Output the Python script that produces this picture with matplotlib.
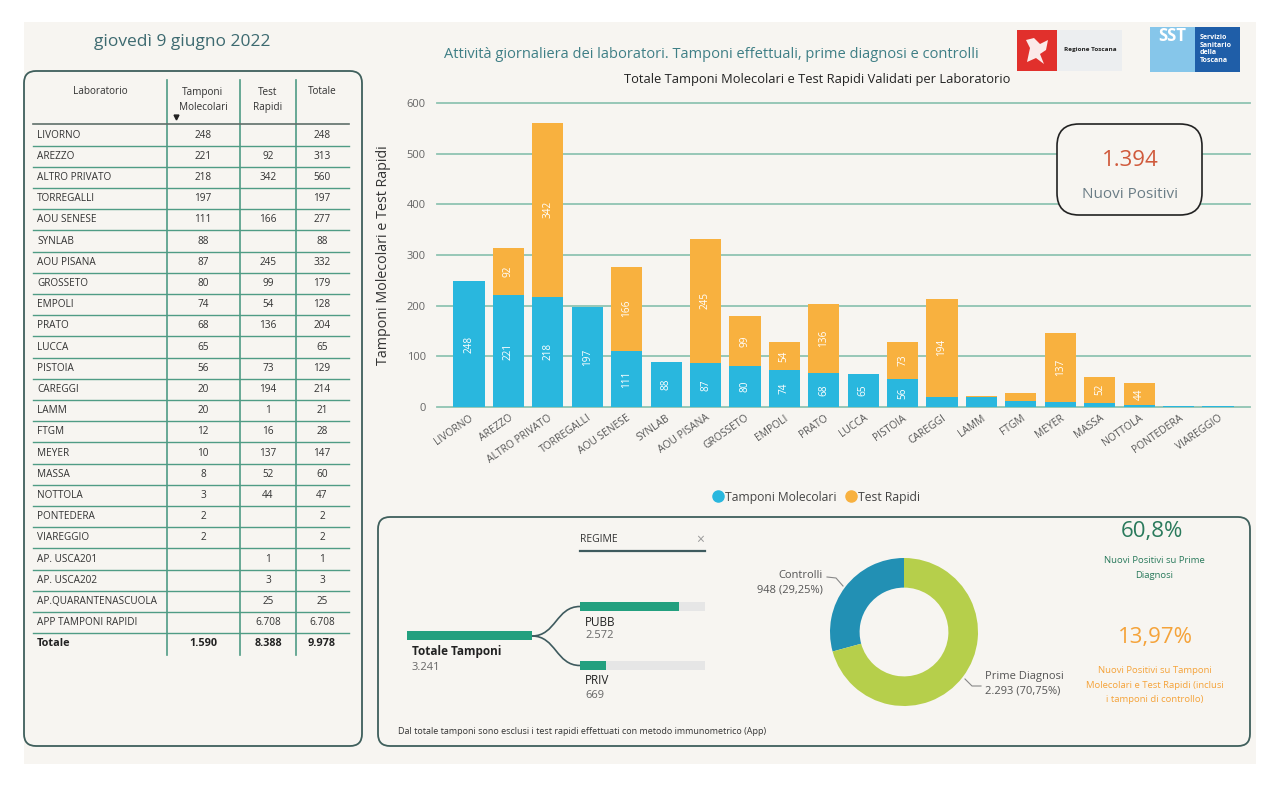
import matplotlib
matplotlib.use('Agg')
import matplotlib.pyplot as plt
import matplotlib.transforms as mtrans
from matplotlib.patches import FancyBboxPatch, Rectangle, PathPatch
from matplotlib.path import Path
from matplotlib.lines import Line2D

plt.rcParams['font.family'] = ['Open Sans', 'DejaVu Sans']

W, H = 1280, 787

# --- data ---
labs = ['LIVORNO', 'AREZZO', 'ALTRO PRIVATO', 'TORREGALLI', 'AOU SENESE', 'SYNLAB',
        'AOU PISANA', 'GROSSETO', 'EMPOLI', 'PRATO', 'LUCCA', 'PISTOIA', 'CAREGGI',
        'LAMM', 'FTGM', 'MEYER', 'MASSA', 'NOTTOLA', 'PONTEDERA', 'VIAREGGIO',
        'AP. USCA201', 'AP. USCA202', 'AP.QUARANTENASCUOLA', 'APP TAMPONI RAPIDI']
molecolari = [248, 221, 218, 197, 111, 88, 87, 80, 74, 68, 65, 56, 20, 20, 12, 10, 8, 3, 2, 2,
              None, None, None, None]
rapidi = [None, 92, 342, None, 166, None, 245, 99, 54, 136, None, 73, 194, 1, 16, 137, 52, 44,
          None, None, 1, 3, 25, 6708]
n_bar = 20

regime = ['PUBB', 'PRIV']
regime_vals = [2572, 669]
donut_labels = ['Controlli', 'Prime Diagnosi']
donut_vals = [948, 2293]
nuovi_positivi = 1394
pct_prime = 60.8
pct_tamponi = 13.97

BEIGE = '#f7f5f1'
PANEL = '#3f5f5c'
GRIDC = '#8fc4b2'
BLUE = '#29b7de'
ORANGE = '#f8b13f'
GREEN = '#23a07f'


def fmt(v):
    return '' if v is None else f'{v:,}'.replace(',', '.')


def pct(v):
    return f'{v:.2f}'.replace('.', ',') + '%'


def frac(x0, y0, x1, y1):
    return [x0 / W, 1 - y1 / H, (x1 - x0) / W, (y1 - y0) / H]


fig = plt.figure(figsize=(12.8, 7.87), dpi=100, facecolor='white')

# background layer: canvas + panels + table
bg = fig.add_axes([0, 0, 1, 1])
bg.set_xlim(0, W)
bg.set_ylim(H, 0)
bg.axis('off')
bg.add_patch(Rectangle((24, 22), 1232, 742, fc=BEIGE, ec='none'))
bg.add_patch(FancyBboxPatch((24, 71), 338, 675, boxstyle='round,pad=0,rounding_size=12',
                            fc=BEIGE, ec=PANEL, lw=1.3))
bg.add_patch(FancyBboxPatch((378, 517), 872, 229, boxstyle='round,pad=0,rounding_size=12',
                            fc=BEIGE, ec=PANEL, lw=1.3))

bg.text(182, 42, 'giovedì 9 giugno 2022', ha='center', va='center', fontsize=12.5, color='#3d6a70')

# table
tcol = '#4f9c85'
fs_t = 7.2
bg.text(100, 92, 'Laboratorio', ha='center', va='center', fontsize=fs_t, color='#333333')
bg.text(203, 100, 'Tamponi\nMolecolari', ha='center', va='center', fontsize=fs_t, color='#333333',
        linespacing=1.45)
bg.text(268, 100, 'Test\nRapidi', ha='center', va='center', fontsize=fs_t, color='#333333', linespacing=1.45)
bg.text(322, 92, 'Totale', ha='center', va='center', fontsize=fs_t, color='#333333')
bg.plot([176], [117], marker='v', color='#222222', ms=3.5)
for xv in [167, 240, 296]:
    bg.plot([xv, xv], [80, 655], color=tcol, lw=1.2)
bg.plot([33, 349], [124, 124], color='#5f6f6a', lw=1.2)

row0, step = 135, 21.2
tot_m = sum(v for v in molecolari if v)
tot_r = sum(v for v in rapidi if v)
for i, name in enumerate(labs):
    y = row0 + step * i
    m, r = molecolari[i], rapidi[i]
    bg.text(37, y, name, ha='left', va='center', fontsize=fs_t, color='#333333')
    bg.text(203, y, fmt(m), ha='center', va='center', fontsize=fs_t, color='#333333')
    bg.text(268, y, fmt(r), ha='center', va='center', fontsize=fs_t, color='#333333')
    bg.text(322, y, fmt((m or 0) + (r or 0)), ha='center', va='center', fontsize=fs_t, color='#333333')
    bg.plot([33, 349], [y + step / 2, y + step / 2], color=tcol, lw=1.0)
yt = row0 + step * len(labs)
bg.text(37, yt, 'Totale', ha='left', va='center', fontsize=7.8, color='#222222', fontweight='bold')
for xc, v in zip([203, 268, 322], [tot_m, tot_r, tot_m + tot_r]):
    bg.text(xc, yt, fmt(v), ha='center', va='center', fontsize=7.8, color='#222222', fontweight='bold')

# --- stacked bar chart ---
ax = fig.add_axes(frac(437, 103, 1250, 407))
ax.set_facecolor('none')
xs = list(range(n_bar))
mol = [molecolari[i] or 0 for i in xs]
rap = [rapidi[i] or 0 for i in xs]
ax.bar(xs, mol, width=0.79, color=BLUE, zorder=3)
ax.bar(xs, rap, width=0.79, bottom=mol, color=ORANGE, zorder=3)
for x, m, r in zip(xs, mol, rap):
    if m >= 30:
        ax.text(x, m / 2, str(m), rotation=90, ha='center', va='center', color='white', fontsize=7.2, zorder=4)
    if r >= 30:
        ax.text(x, m + r / 2, str(r), rotation=90, ha='center', va='center', color='white', fontsize=7.2, zorder=4)
ax.set_xlim(-0.81, 19.81)
ax.set_ylim(0, 600)
ax.set_yticks(range(0, 601, 100))
ax.yaxis.grid(True, color=GRIDC, lw=1.3, zorder=0)
for gl in ax.get_ygridlines():
    gl.set_clip_on(False)
for s in ax.spines.values():
    s.set_visible(False)
ax.tick_params(axis='y', length=0, pad=8, labelsize=8, labelcolor='#666666')
ax.set_xticks(xs)
ax.set_xticklabels(labs[:n_bar], rotation=35, ha='right', va='top', rotation_mode='anchor',
                   fontsize=7.4, color='#555555')
shift = mtrans.ScaledTranslation(-6 / 100, 0, fig.dpi_scale_trans)
for lbl in ax.get_xticklabels():
    lbl.set_transform(lbl.get_transform() + shift)
ax.tick_params(axis='x', length=0, pad=4)
ax.set_ylabel('Tamponi Molecolari e Test Rapidi', fontsize=10.3, color='#333333')
ax.yaxis.set_label_coords(-0.0566, 0.5)

handles = [Line2D([], [], marker='o', ls='', color=BLUE, ms=8, label='Tamponi Molecolari'),
           Line2D([], [], marker='o', ls='', color=ORANGE, ms=8, label='Test Rapidi')]
fig.legend(handles=handles, loc='center', bbox_to_anchor=(815 / W, 1 - 497 / H), ncol=2, frameon=False,
           fontsize=8.7, handletextpad=0.0, columnspacing=0.6, handlelength=1.2, labelcolor='#444444')

# --- donut ---
dax = fig.add_axes(frac(830, 558, 978, 706))
dax.pie(donut_vals, colors=['#2290b4', '#b6cf4b'], startangle=90, counterclock=True,
        radius=1, wedgeprops=dict(width=0.4, edgecolor='none'))
dax.set_xlim(-1, 1)
dax.set_ylim(-1, 1)
dax.set_aspect('equal')

# --- top layer: texts, KPI, logos, tree ---
top = fig.add_axes([0, 0, 1, 1])
top.set_facecolor('none')
top.set_xlim(0, W)
top.set_ylim(H, 0)
top.axis('off')

top.text(711, 55, 'Attività giornaliera dei laboratori. Tamponi effettuali, prime diagnosi e controlli',
         ha='center', va='center', fontsize=10.5, color='#3f7f86')
top.text(817, 80, 'Totale Tamponi Molecolari e Test Rapidi Validati per Laboratorio',
         ha='center', va='center', fontsize=9.3, color='#222222')

# logos
top.add_patch(Rectangle((1017, 30), 40, 41, fc='#e1302c', ec='none'))
horse = Path([(1027, 62), (1030, 48), (1026, 40), (1034, 38), (1040, 44), (1048, 40), (1046, 50),
              (1040, 54), (1044, 64), (1036, 58), (1027, 62)])
top.add_patch(PathPatch(horse, fc='white', ec='none', alpha=0.9))
top.add_patch(Rectangle((1057, 30), 65, 41, fc='#eceef0', ec='none'))
top.text(1090, 49, 'Regione Toscana', ha='center', va='center', fontsize=4.6, fontweight='bold', color='#222222')
top.add_patch(Rectangle((1150, 27), 45, 45, fc='#86c6ea', ec='none'))
top.text(1172, 36, 'SST', ha='center', va='center', fontsize=12, fontweight='bold', color='white')
top.add_patch(Rectangle((1195, 27), 45, 45, fc='#1f5ea8', ec='none'))
top.text(1200, 49, 'Servizio\nSanitario\ndella\nToscana', ha='left', va='center', fontsize=5,
         fontweight='bold', color='white', linespacing=1.1)

# KPI box
top.add_patch(FancyBboxPatch((1057, 124), 145, 91, boxstyle='round,pad=0,rounding_size=22',
                             fc=BEIGE, ec='#222222', lw=1.2))
top.text(1130, 160, fmt(nuovi_positivi), ha='center', va='center', fontsize=16, color='#d05a3c')
top.text(1130, 194, 'Nuovi Positivi', ha='center', va='center', fontsize=11, color='#6b7d86')

# decomposition tree
tot = sum(regime_vals)
bw = 125
top.add_patch(Rectangle((407, 631), bw, 9, fc=GREEN, ec='none'))
top.text(412, 652, 'Totale Tamponi', ha='left', va='center', fontsize=8.5, fontweight='bold', color='#222222')
top.text(412, 667, fmt(tot), ha='left', va='center', fontsize=8, color='#666666')
for name, v, yb in zip(regime, regime_vals, [602, 661]):
    top.add_patch(Rectangle((580, yb), bw, 9, fc='#e6e6e6', ec='none'))
    top.add_patch(Rectangle((580, yb), bw * v / tot, 9, fc=GREEN, ec='none'))
    top.text(585, yb + 20, name, ha='left', va='center', fontsize=8.5, color='#222222')
    top.text(585, yb + 34, fmt(v), ha='left', va='center', fontsize=8, color='#666666')
    p = Path([(532, 636), (556, 636), (556, yb + 4.5), (580, yb + 4.5)],
             [Path.MOVETO, Path.CURVE4, Path.CURVE4, Path.CURVE4])
    top.add_patch(PathPatch(p, fc='none', ec='#3e5a5e', lw=1.2))
top.text(580, 540, 'REGIME', ha='left', va='center', fontsize=7.5, color='#333333')
top.plot([580, 705], [551, 551], color='#3e5a5e', lw=1.6)
top.text(700, 540, '×', ha='center', va='center', fontsize=10, color='#999999')
top.text(398, 731, 'Dal totale tamponi sono esclusi i test rapidi effettuati con metodo immunometrico (App)',
         ha='left', va='center', fontsize=6.5, color='#333333')

# donut labels
pcts = [v / tot * 100 for v in donut_vals]
top.text(823, 575, donut_labels[0], ha='right', va='center', fontsize=8, color='#555555')
top.text(823, 590, f'{fmt(donut_vals[0])} ({pct(pcts[0])})', ha='right', va='center', fontsize=8, color='#555555')
top.plot([827, 836, 843], [577, 578, 586], color='#888888', lw=0.8)
top.text(985, 676, donut_labels[1], ha='left', va='center', fontsize=8, color='#555555')
top.text(985, 691, f'{fmt(donut_vals[1])} ({pct(pcts[1])})', ha='left', va='center', fontsize=8, color='#555555')
top.plot([965, 972, 981], [679, 686, 686], color='#888888', lw=0.8)

# right KPIs
top.text(1152, 531, f'{pct_prime:.1f}%'.replace('.', ','), ha='center', va='center', fontsize=16, color='#2a7a5c')
top.text(1154, 568, 'Nuovi Positivi su Prime\nDiagnosi', ha='center', va='center', fontsize=6.8,
         color='#2a7a5c', linespacing=1.8)
top.text(1155, 638, pct(pct_tamponi), ha='center', va='center', fontsize=16, color='#f5a33a')
top.text(1155, 685, 'Nuovi Positivi su Tamponi\nMolecolari e Test Rapidi (inclusi\ni tamponi di controllo)',
         ha='center', va='center', fontsize=6.8, color='#f5a33a', linespacing=1.8)

fig.savefig('out.png', dpi=100, facecolor='white')
